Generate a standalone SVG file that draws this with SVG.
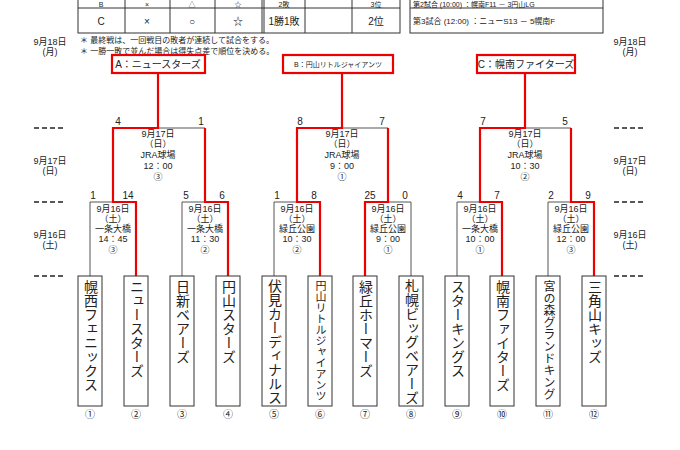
<svg xmlns="http://www.w3.org/2000/svg" width="680" height="450" viewBox="0 0 680 450">
<style>
text{font-family:"Liberation Sans","Noto Sans CJK JP",sans-serif;fill:#222}
.s{font-size:9px;text-anchor:middle}
.sc{font-size:10px;text-anchor:middle}
.tp{font-size:7px;text-anchor:middle}
.g{fill:none;stroke:#555;stroke-width:1}
.r{fill:none;stroke:#e00;stroke-width:2.2}
.tb{fill:#fff;stroke:#333;stroke-width:1}
.nm{font-size:14px;writing-mode:vertical-rl;text-orientation:upright}
.lb{fill:#fff;stroke:#e00;stroke-width:2.2}
.d{stroke:#222;stroke-width:1.5;stroke-dasharray:5,3}
.c{font-size:10px;text-anchor:middle;font-family:"Noto Sans CJK JP",sans-serif}
</style>
<g id="table">
<rect x="78" y="-20" width="322" height="53" fill="#fff" stroke="#333"/>
<line x1="78" y1="8" x2="400" y2="8" stroke="#333"/>
<g stroke="#333"><line x1="125" y1="-20" x2="125" y2="33"/><line x1="170" y1="-20" x2="170" y2="33"/><line x1="215" y1="-20" x2="215" y2="33"/><line x1="262" y1="-20" x2="262" y2="33"/><line x1="264" y1="-20" x2="264" y2="33"/><line x1="305" y1="-20" x2="305" y2="33"/><line x1="352" y1="-20" x2="352" y2="33"/></g>
<g class="tp"><text x="101" y="7">B</text><text x="147" y="7">×</text><text x="192" y="7">△</text><text x="238" y="7">☆</text><text x="284" y="7">2敗</text><text x="376" y="7">3位</text></g>
<g class="sc"><text x="101" y="25">C</text><text x="147" y="25">×</text><text x="192" y="25">○</text><text x="238" y="25">☆</text><text x="284" y="25">1勝1敗</text><text x="376" y="25">2位</text></g>
<rect x="410" y="-20" width="193" height="53" fill="#fff" stroke="#333"/>
<line x1="410" y1="8" x2="603" y2="8" stroke="#333"/>
<text x="413" y="7" font-size="7">第2試合 (10:00) ：幌南F11 － 3円山LG</text>
<text x="413" y="24" font-size="8">第3試合 (12:00) ：ニューS13 － 5幌南F</text>
<text x="80" y="43" font-size="8">＊ 最終戦は、一回戦目の敗者が連続して試合をする。</text>
<text x="80" y="54" font-size="8">＊ 一勝一敗で並んだ場合は得失点差で順位を決める。</text>
</g>
<g id="side-labels" class="s">
<text x="50" y="45">9月18日</text><text x="50" y="55">(月)</text>
<text x="50" y="164">9月17日</text><text x="50" y="174">(日)</text>
<text x="50" y="238">9月16日</text><text x="50" y="248">(土)</text>
<text x="630" y="45">9月18日</text><text x="630" y="55">(月)</text>
<text x="630" y="164">9月17日</text><text x="630" y="174">(日)</text>
<text x="630" y="238">9月16日</text><text x="630" y="248">(土)</text>
<line class="d" x1="34" y1="128" x2="66" y2="128"/><line class="d" x1="34" y1="202" x2="66" y2="202"/><line class="d" x1="34" y1="276" x2="66" y2="276"/>
<line class="d" x1="614" y1="128" x2="646" y2="128"/><line class="d" x1="614" y1="202" x2="646" y2="202"/><line class="d" x1="614" y1="276" x2="646" y2="276"/>
</g>
<g id="connectors">
<path class="g" d="M90 276V202H136M182 276V202H228M158 128H205M274 276V202H320M411 276V202H388M342 128H388M457 276V202H502M548 276V202H594M525 128H571"/>
<path class="r" d="M136 276V202H113V128H158V73M228 276V202H205V128"/>
<path class="r" d="M320 276V202H297V128H342V73M365 276V202H388V128"/>
<path class="r" d="M502 276V202H480V128H525V73M594 276V202H571V128"/>
</g>
<g id="labelA"><rect class="lb" x="112" y="55" width="93" height="18"/><text x="158" y="68" font-size="10" text-anchor="middle">A：ニュースターズ</text></g>
<g id="labelB"><rect class="lb" x="283" y="55" width="110" height="18"/><text x="338" y="67" font-size="7" text-anchor="middle">B：円山リトルジャイアンツ</text></g>
<g id="labelC"><rect class="lb" x="477" y="55" width="98" height="18"/><text x="526" y="68" font-size="10" text-anchor="middle">C：幌南ファイターズ</text></g>
<g id="scores" class="sc">
<text x="118" y="125">4</text><text x="201" y="125">1</text><text x="93" y="199">1</text><text x="128" y="199">14</text><text x="186" y="199">5</text><text x="222" y="199">6</text>
<text x="300" y="125">8</text><text x="382" y="125">7</text><text x="277" y="199">1</text><text x="314" y="199">8</text><text x="370" y="199">25</text><text x="405" y="199">0</text>
<text x="483" y="125">7</text><text x="565" y="125">5</text><text x="460" y="199">4</text><text x="497" y="199">7</text><text x="551" y="199">2</text><text x="588" y="199">9</text>
</g>
<g id="matches" class="s">
<text x="158" y="137">9月17日</text><text x="158" y="147">（日）</text><text x="158" y="158">JRA球場</text><text x="158" y="169">12：00</text><text x="158" y="180">③</text>
<text x="342" y="137">9月17日</text><text x="342" y="147">（日）</text><text x="342" y="158">JRA球場</text><text x="342" y="169">9：00</text><text x="342" y="180">①</text>
<text x="525" y="137">9月17日</text><text x="525" y="147">（日）</text><text x="525" y="158">JRA球場</text><text x="525" y="169">10：30</text><text x="525" y="180">②</text>
<text x="113" y="212">9月16日</text><text x="113" y="222">（土）</text><text x="113" y="232">一条大橋</text><text x="113" y="242">14：45</text><text x="113" y="253">③</text>
<text x="205" y="212">9月16日</text><text x="205" y="222">（土）</text><text x="205" y="232">一条大橋</text><text x="205" y="242">11：30</text><text x="205" y="253">②</text>
<text x="297" y="212">9月16日</text><text x="297" y="222">（土）</text><text x="297" y="232">緑丘公園</text><text x="297" y="242">10：30</text><text x="297" y="253">②</text>
<text x="388" y="212">9月16日</text><text x="388" y="222">（土）</text><text x="388" y="232">緑丘公園</text><text x="388" y="242">9：00</text><text x="388" y="253">①</text>
<text x="480" y="212">9月16日</text><text x="480" y="222">（土）</text><text x="480" y="232">一条大橋</text><text x="480" y="242">10：00</text><text x="480" y="253">①</text>
<text x="571" y="212">9月16日</text><text x="571" y="222">（土）</text><text x="571" y="232">緑丘公園</text><text x="571" y="242">12：00</text><text x="571" y="253">③</text>
</g>
<g id="t1"><rect class="tb" x="78" y="276" width="24" height="130"/><text class="nm" x="90" y="280">幌西フェニックス</text><text class="c" x="90" y="418">①</text></g>
<g id="t2"><rect class="tb" x="124" y="276" width="24" height="130"/><text class="nm" x="136" y="280">ニュースターズ</text><text class="c" x="136" y="418">②</text></g>
<g id="t3"><rect class="tb" x="170" y="276" width="24" height="130"/><text class="nm" x="182" y="280">日新ベアーズ</text><text class="c" x="182" y="418">③</text></g>
<g id="t4"><rect class="tb" x="216" y="276" width="24" height="130"/><text class="nm" x="228" y="280">円山スターズ</text><text class="c" x="228" y="418">④</text></g>
<g id="t5"><rect class="tb" x="262" y="276" width="24" height="130"/><text class="nm" x="274" y="279" style="font-size:14px">伏見カーディナルス</text><text class="c" x="274" y="418">⑤</text></g>
<g id="t6"><rect class="tb" x="308" y="276" width="24" height="130"/><text class="nm" x="320" y="280" style="font-size:11px">円山リトルジャイアンツ</text><text class="c" x="320" y="418">⑥</text></g>
<g id="t7"><rect class="tb" x="353" y="276" width="24" height="130"/><text class="nm" x="365" y="280">緑丘ホーマーズ</text><text class="c" x="365" y="418">⑦</text></g>
<g id="t8"><rect class="tb" x="399" y="276" width="24" height="130"/><text class="nm" x="411" y="279" style="font-size:14px">札幌ビッグベアーズ</text><text class="c" x="411" y="418">⑧</text></g>
<g id="t9"><rect class="tb" x="445" y="276" width="24" height="130"/><text class="nm" x="457" y="280">スターキングス</text><text class="c" x="457" y="418">⑨</text></g>
<g id="t10"><rect class="tb" x="490" y="276" width="24" height="130"/><text class="nm" x="502" y="280">幌南ファイターズ</text><text class="c" x="502" y="418">⑩</text></g>
<g id="t11"><rect class="tb" x="536" y="276" width="24" height="130"/><text class="nm" x="548" y="280" style="font-size:12px">宮の森グランドキング</text><text class="c" x="548" y="418">⑪</text></g>
<g id="t12"><rect class="tb" x="582" y="276" width="24" height="130"/><text class="nm" x="594" y="280">三角山キッズ</text><text class="c" x="594" y="418">⑫</text></g>
</svg>
